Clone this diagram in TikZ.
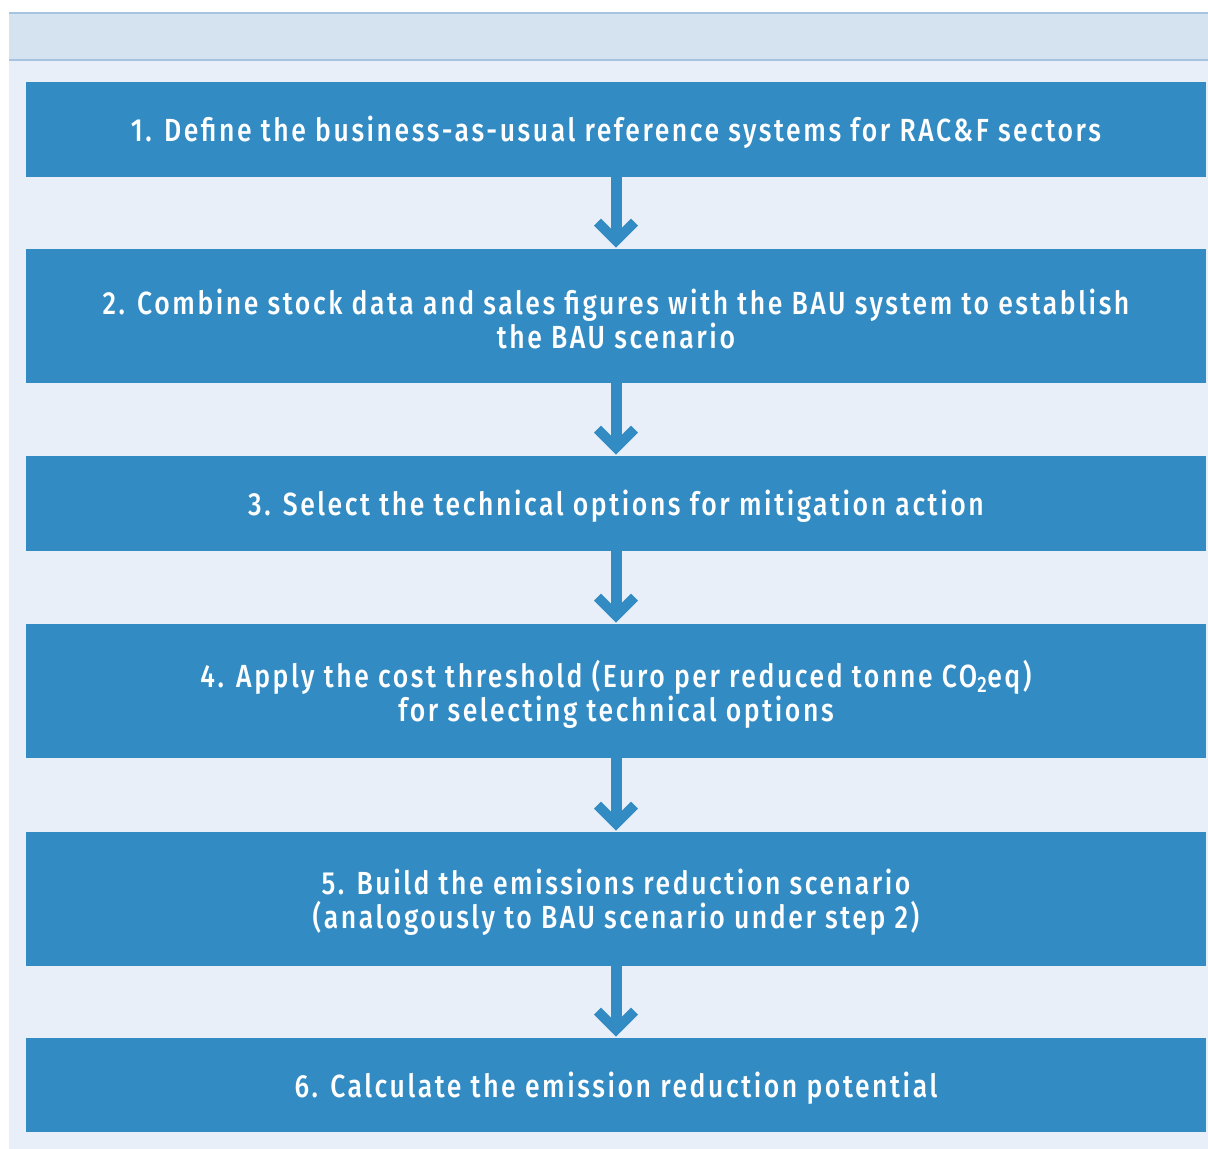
\documentclass[tikz,border=0pt]{standalone}
\usepackage{fontspec}
\setmainfont{Fira Sans}[UprightFont={* Medium},FakeStretch=0.83,LetterSpace=8]
\usetikzlibrary{calc}
\definecolor{hdrfill}{HTML}{D5E2F0}
\definecolor{hdrline}{HTML}{A7C3DF}
\definecolor{panel}{HTML}{E8EFF8}
\definecolor{boxblue}{HTML}{338BC3}
\tikzset{
  stepbox/.style={rectangle, fill=boxblue, text=white, minimum width=1180*0.75pt, align=center, inner sep=0pt,
    font={\fontsize{24}{25.5}\selectfont}},
  shaft/.style={draw=boxblue, line width=11*0.75pt},
  chev/.style={fill=boxblue},
}
\newcommand\flowarrow[2]{%
  \draw[shaft] (#1.south) -- ($(#2.north)+(0,-9)$);
  \fill[chev] ($(#2.north)+(0,-1)$) -- ++(-22,-22) -- ++(7,-7) -- ++(15,15) -- ++(15,-15) -- ++(7,7) -- cycle;
}
\begin{document}
\begin{tikzpicture}[x=0.75pt,y=-0.75pt]
\useasboundingbox (0,0) rectangle (1208,1149);
\fill[white] (0,0) rectangle (1208,1149);
\fill[panel] (9,60) rectangle (1208,1149);
\fill[hdrfill] (9,13) rectangle (1208,60);
\draw[hdrline, line width=1.2pt] (9,13) -- (1208,13);
\draw[hdrline, line width=1.2pt] (9,60) -- (1208,60);

\node[stepbox, minimum height=95*0.75pt] (b1) at (616,129.5) {};
\node[stepbox, minimum height=134*0.75pt] (b2) at (616,316) {};
\node[stepbox, minimum height=95*0.75pt] (b3) at (616,503.5) {};
\node[stepbox, minimum height=134*0.75pt] (b4) at (616,691) {};
\node[stepbox, minimum height=134*0.75pt] (b5) at (616,899) {};
\node[stepbox, minimum height=94*0.75pt] (b6) at (616,1085) {};

\node[stepbox, fill=none] (t1) at ($(b1.center)+(0,3)$) {1. Define the business-as-usual reference systems for RAC\&F sectors};
\node[stepbox, fill=none] (t2) at ($(b2.center)+(0,3)$) {2. Combine stock data and sales figures with the BAU system to establish\\the BAU scenario};
\node[stepbox, fill=none] (t3) at ($(b3.center)+(0,3)$) {3. Select the technical options for mitigation action};
\node[stepbox, fill=none] (t4) at ($(b4.center)+(0,3)$) {4. Apply the cost threshold (Euro per reduced tonne CO\textsubscript{2}eq)\\for selecting technical options};
\node[stepbox, fill=none] (t5) at ($(b5.center)+(0,3)$) {5. Build the emissions reduction scenario\\(analogously to BAU scenario under step 2)};
\node[stepbox, fill=none] (t6) at ($(b6.center)+(0,3)$) {6. Calculate the emission reduction potential};

\flowarrow{b1}{b2}
\flowarrow{b2}{b3}
\flowarrow{b3}{b4}
\flowarrow{b4}{b5}
\flowarrow{b5}{b6}
\end{tikzpicture}
\end{document}
